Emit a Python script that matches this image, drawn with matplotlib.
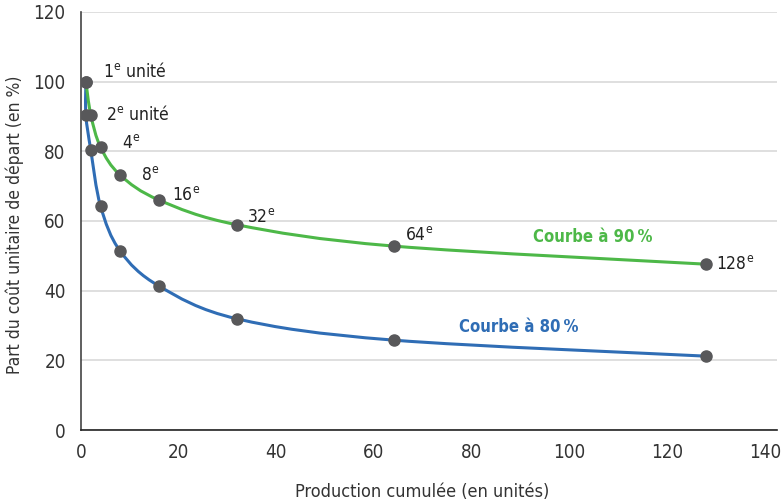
import matplotlib
matplotlib.use("Agg")
import matplotlib.pyplot as plt
from matplotlib.path import Path
from matplotlib.patches import PathPatch
import numpy as np

# Data
x90 = [1, 2, 4, 8, 16, 32, 64, 128]
y90 = [100, 90.5, 81.2, 73.2, 66.0, 58.9, 52.8, 47.6]
x80 = [1, 1, 2, 4, 8, 16, 32, 64, 128]
y80 = [100, 90.4, 80.4, 64.3, 51.4, 41.3, 31.9, 25.8, 21.2]
point_labels = ["1$^{\\mathrm{e}}$ unité", "2$^{\\mathrm{e}}$ unité", "4$^{\\mathrm{e}}$", "8$^{\\mathrm{e}}$",
                "16$^{\\mathrm{e}}$", "32$^{\\mathrm{e}}$", "64$^{\\mathrm{e}}$", "128$^{\\mathrm{e}}$"]
xticks = [0, 20, 40, 60, 80, 100, 120, 140]
yticks = [0, 20, 40, 60, 80, 100, 120]

plt.rcParams['font.family'] = ['DejaVu Sans']
plt.rcParams['font.stretch'] = 'condensed'
plt.rcParams['mathtext.fontset'] = 'custom'
plt.rcParams['mathtext.rm'] = 'DejaVu Sans:stretch=condensed'

GREEN = '#4db848'
BLUE = '#2f6db5'
DOT = '#58585a'
TXT = '#222222'
FS = 12.5

fig = plt.figure(figsize=(7.83, 5.04), dpi=100)
ax = fig.add_axes([81/783, (504-430)/504, (777-81)/783, (430-12)/504])


def smooth_path(xs, ys):
    pts = np.column_stack([xs, ys]).astype(float)
    n = len(pts)
    verts = [pts[0]]
    codes = [Path.MOVETO]
    for i in range(n - 1):
        p0 = pts[i - 1] if i > 0 else pts[i]
        p1 = pts[i]
        p2 = pts[i + 1]
        p3 = pts[i + 2] if i + 2 < n else pts[i + 1]
        c1 = p1 + (p2 - p0) / 6.0
        c2 = p2 - (p3 - p1) / 6.0
        verts += [c1, c2, p2]
        codes += [Path.CURVE4] * 3
    return Path(verts, codes)


ax.add_patch(PathPatch(smooth_path(x80, y80), fill=False, edgecolor=BLUE, lw=2.2, zorder=3))
ax.add_patch(PathPatch(smooth_path(x90, y90), fill=False, edgecolor=GREEN, lw=2.2, zorder=3))
ax.plot(x80, y80, 'o', color=DOT, ms=8, zorder=4, ls='none')
ax.plot(x90, y90, 'o', color=DOT, ms=8, zorder=5, ls='none')

label_pos = [(4.5, 102.8), (5.1, 90.7), (8.4, 82.4), (12.3, 73.2), (18.6, 67.5),
             (34.0, 61.2), (66.3, 56.0), (130.0, 47.7)]
for lab, (lx, ly) in zip(point_labels, label_pos):
    ax.text(lx, ly, lab, fontsize=FS, color=TXT, ha='left', va='center')

ax.text(104.8, 55.4, "Courbe à 90\u202f%", fontsize=12, color=GREEN, ha='center', va='center', fontweight='bold')
ax.text(89.6, 29.6, "Courbe à 80\u202f%", fontsize=12, color=BLUE, ha='center', va='center', fontweight='bold')

ax.set_xlim(0, 142.5)
ax.set_ylim(0, 120)
ax.set_xticks(xticks)
ax.set_yticks(yticks)
ax.tick_params(length=0, labelsize=13.5, colors='#333333', pad=9)
ax.tick_params(axis='y', pad=11)
ax.yaxis.grid(True, color='#d9d9d9', lw=1.2)
ax.set_axisbelow(True)
for s in ['top', 'right']:
    ax.spines[s].set_visible(False)
ax.spines['left'].set_color('#444444')
ax.spines['bottom'].set_color('#222222')
ax.spines['left'].set_linewidth(1.2)
ax.spines['bottom'].set_linewidth(1.2)

fig.text(422/783, 1 - 492/504, "Production cumulée (en unités)", fontsize=13, color='#333333', ha='center', va='center')
fig.text(15/783, 1 - 225/504, "Part du coût unitaire de départ (en %)", fontsize=12.5, color='#333333',
         ha='center', va='center', rotation=90)

fig.savefig("out.png", dpi=100)
